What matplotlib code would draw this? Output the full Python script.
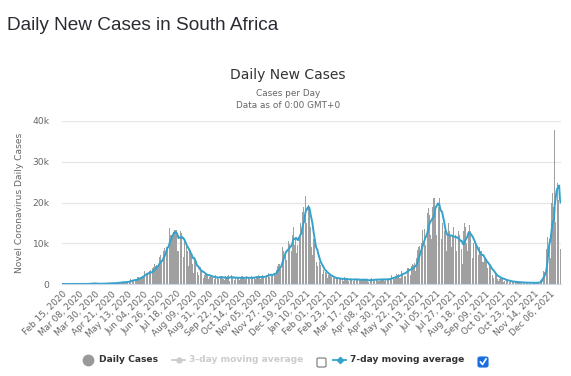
import matplotlib
matplotlib.use("Agg")
import matplotlib.pyplot as plt
from matplotlib.lines import Line2D
from matplotlib.patches import FancyBboxPatch
import numpy as np
import pandas as pd

# daily new cases, South Africa, one row per week (rows start on Saturday)
start_date = "2020-02-15"
cases_2020 = [
    0, 0, 0, 0, 0, 0, 0,                              # Feb 15
    0, 0, 0, 0, 0, 0, 0,                              # Feb 22
    0, 0, 0, 0, 0, 1, 0,                              # Feb 29
    1, 1, 4, 0, 6, 3, 8,                              # Mar 07
    14, 13, 11, 23, 31, 34, 52,                       # Mar 14
    38, 34, 128, 152, 155, 218, 243,                  # Mar 21
    17, 83, 46, 27, 37, 82, 112,                      # Mar 28
    43, 63, 69, 45, 89, 96, 51,                       # Apr 04
    25, 88, 99, 143, 142, 178, 251,                   # Apr 11
    111, 137, 165, 124, 138, 165, 318,                # Apr 18
    267, 174, 178, 215, 354, 297, 377,                # Apr 25
    385, 447, 437, 267, 424, 663, 332,                # May 02
    595, 480, 380, 416, 511, 703, 665,                # May 09
    804, 1160, 767, 803, 784, 958, 1134,              # May 16
    1218, 963, 1240, 661, 1673, 1837, 1288,           # May 23
    1727, 1716, 1455, 1674, 2700, 1713, 3267,         # May 30
    2312, 2657, 2594, 2430, 2590, 3147, 3155,         # Jun 06
    3359, 2642, 2430, 3809, 4078, 3388, 4966,         # Jun 13
    4302, 4621, 4288, 4518, 4966, 6579, 6215,         # Jun 20
    7210, 5341, 4600, 6945, 8124, 8728, 9063,         # Jun 27
    10853, 8971, 8773, 8810, 10134, 13674, 12058,     # Jul 04
    13497, 12058, 11554, 12757, 12757, 13172, 13285,  # Jul 11
    13285, 10107, 8170, 8170, 13150, 13944, 13104,    # Jul 18
    12444, 11525, 7232, 6513, 11362, 11046, 10107,    # Jul 25
    10107, 8195, 5377, 4456, 8307, 8307, 7712,        # Aug 01
    7712, 4804, 2810, 5385, 6275, 5389, 3916,         # Aug 08
    4000, 3000, 2300, 2800, 3900, 4100, 3500,         # Aug 15
    2313, 2505, 1567, 2088, 2585, 2646, 2370,         # Aug 22
    2420, 1895, 1216, 1677, 2230, 2500, 1663,         # Aug 29
    1929, 1524, 853, 1218, 2143, 1923, 2046,          # Sep 05
    1527, 1277, 772, 1923, 1989, 2055, 1987,          # Sep 12
    1587, 1119, 906, 1004, 1907, 1692, 1976,          # Sep 19
    1325, 2174, 737, 1767, 1705, 2134, 1725,          # Sep 26
    1436, 1207, 1012, 1495, 2148, 1708, 1767,         # Oct 03
    1541, 1210, 901, 1116, 1980, 1801, 2036,          # Oct 10
    1474, 1203, 1094, 1146, 2016, 1933, 1801,         # Oct 17
    1520, 1129, 1052, 1225, 1994, 1824, 2004,         # Oct 24
    1673, 1372, 1191, 1376, 1887, 2078, 2220,         # Oct 31
    1812, 1361, 1134, 1614, 2082, 2233, 1854,         # Nov 07
    1955, 1348, 1374, 2272, 2578, 2664, 2642,         # Nov 14
    1824, 2270, 1723, 1870, 2270, 3215, 3300,         # Nov 21
    2813, 2296, 2003, 3500, 4400, 4800, 5200,         # Nov 28
    4900, 3800, 3500, 7500, 9000, 8000, 9000,         # Dec 05
    8500, 7900, 6000, 9000, 9500, 10500, 9800,        # Dec 12
    10900, 8500, 8000, 12000, 14500, 14000, 9500,     # Dec 19
    11500, 9500, 7500, 9500, 14000, 17710,            # Dec 26
]
cases_2021 = [
    11500,                                            # Jan 01
    15002, 10939, 12601, 17710, 19000, 20000, 21980,  # Jan 02
    21606, 15002, 12601, 21832, 19500, 18500, 16500,  # Jan 09
    14000, 9000, 7000, 12000, 11000, 10000, 8500,     # Jan 16
    7000, 5500, 4500, 6000, 6500, 5500, 4600,         # Jan 23
    4000, 3300, 2500, 3400, 3900, 3500, 3000,         # Jan 30
    2600, 2000, 1500, 2200, 2700, 2300, 2000,         # Feb 06
    1800, 1400, 1000, 1400, 1900, 1750, 1550,         # Feb 13
    1434, 1192, 942, 1126, 1563, 1554, 1361,          # Feb 20
    1190, 1165, 843, 1087, 1596, 1335, 1428,          # Feb 27
    1165, 921, 618, 1007, 1288, 1445, 1308,           # Mar 06
    1260, 827, 656, 1077, 1486, 1318, 1234,           # Mar 13
    1187, 802, 561, 910, 1343, 1346, 1209,            # Mar 20
    1080, 946, 621, 1114, 1344, 1151, 1009,           # Mar 27
    863, 502, 488, 1031, 1232, 1353, 1111,            # Apr 03
    1182, 718, 639, 1188, 1311, 1340, 1106,           # Apr 10
    1259, 786, 776, 1075, 1470, 1347, 1236,           # Apr 17
    1216, 754, 664, 1173, 1536, 1384, 1217,           # Apr 24
    1330, 879, 849, 1577, 2099, 1802, 1607,           # May 01
    1755, 1165, 968, 1975, 2557, 2231, 2151,          # May 08
    2376, 1576, 1437, 2683, 3173, 2761, 3086,         # May 15
    3018, 1990, 1853, 3626, 4220, 3950, 3941,         # May 22
    3881, 2541, 2221, 4515, 5090, 4932, 4697,         # May 29
    5248, 3230, 3147, 6412, 8436, 8881, 9149,         # Jun 05
    9286, 6130, 7244, 10065, 13155, 13246, 12802,     # Jun 12
    13398, 9483, 9718, 13246, 17493, 18762, 19164,    # Jun 19
    17000, 12000, 11000, 16000, 19000, 21000, 21000,  # Jun 26
    26485, 18000, 12000, 18000, 22000, 19000, 21000,  # Jul 03
    20000, 14000, 11000, 15000, 15000, 14000, 13000,  # Jul 10
    13000, 9000, 8000, 12000, 15000, 14000, 13000,    # Jul 17
    12000, 9000, 8000, 12000, 14000, 13000, 13000,    # Jul 24
    12000, 8000, 8000, 11000, 13000, 12000, 11000,    # Jul 31
    11000, 8500, 5000, 8000, 13000, 15000, 14000,     # Aug 07
    14000, 10000, 8000, 13000, 14000, 14500, 13000,   # Aug 14
    12500, 8000, 6500, 10000, 11500, 11000, 10000,    # Aug 21
    9000, 6000, 4000, 7000, 9000, 8500, 8000,         # Aug 28
    8000, 5500, 4000, 5500, 6500, 6000, 6500,         # Sep 04
    5500, 4000, 2500, 3700, 4600, 4500, 4000,         # Sep 11
    3500, 2200, 1500, 2000, 2800, 2600, 2400,         # Sep 18
    1800, 1200, 800, 1300, 2000, 1800, 1300,          # Sep 25
    1400, 900, 600, 800, 1300, 1100, 1000,            # Oct 02
    900, 600, 400, 500, 900, 700, 600,                # Oct 09
    650, 450, 300, 400, 700, 500, 450,                # Oct 16
    500, 350, 250, 350, 550, 450, 400,                # Oct 23
    400, 250, 150, 300, 500, 400, 350,                # Oct 30
    350, 200, 150, 250, 400, 350, 300,                # Nov 06
    350, 250, 150, 300, 450, 400, 350,                # Nov 13
    400, 300, 350, 870, 1275, 2465, 2828,             # Nov 20
    3220, 2858, 2273, 4373, 8561, 11535, 16055,       # Nov 27
    16366, 11125, 6381, 13147, 19842, 22391, 19018,   # Dec 04
    17154, 37875, 15154, 23884, 26976, 24785, 20713,  # Dec 11
    19784, 15424, 8515,                               # Dec 18
]
y_ticks = [0, 10000, 20000, 30000, 40000]
y_tick_labels = ["0", "10k", "20k", "30k", "40k"]
tick_every = 22

daily = cases_2020 + cases_2021
dates = pd.date_range(start_date, periods=len(daily), freq="D")
cases = pd.Series(daily, index=dates)
avg7 = cases.rolling(7, min_periods=1).mean()

W, H = 571, 376
fig = plt.figure(figsize=(W / 100, H / 100), dpi=100)

def fx(px):
    return px / W

def fy(py):
    return 1 - py / H

ax = fig.add_axes([fx(62), fy(284), fx(561) - fx(62), fy(121) - fy(284)])
x = np.arange(len(cases))
ax.bar(x, cases.values, width=0.8, color="#a0a0a0", linewidth=0, zorder=2)
ax.plot(x, avg7.values, color="#35a2cc", lw=1.4, zorder=3)

ax.set_xlim(-0.5, len(cases) - 0.5)
ax.set_ylim(0, 40000)
ax.set_yticks(y_ticks)
ax.set_yticklabels(y_tick_labels)
ticks = x[::tick_every]
ax.set_xticks(ticks)
ax.set_xticklabels([dates[i].strftime("%b %d, %Y") for i in ticks],
                   rotation=45, ha="right", rotation_mode="anchor")
ax.tick_params(axis="x", length=0, pad=4, labelsize=6.4, labelcolor="#666666")
ax.tick_params(axis="y", length=0, pad=9, labelsize=6.6, labelcolor="#666666")
ax.grid(axis="y", color="#e6e6e6", lw=0.9, zorder=0)
for side in ["top", "right", "left"]:
    ax.spines[side].set_visible(False)
ax.spines["bottom"].set_color("#ccd6eb")
ax.spines["bottom"].set_zorder(4)
ax.set_ylabel("Novel Coronavirus Daily Cases", fontsize=6.6, color="#666666", labelpad=6)

# titles
fig.text(fx(7), fy(26), "Daily New Cases in South Africa", fontsize=13.7,
         family="Liberation Sans", color="#2b2b33", va="center", ha="left")
fig.text(fx(288), fy(74.5), "Daily New Cases", fontsize=10, color="#333333",
         ha="center", va="center")
fig.text(fx(288), fy(93.5), "Cases per Day", fontsize=6.4, color="#666666",
         ha="center", va="center")
fig.text(fx(288), fy(106), "Data as of 0:00 GMT+0", fontsize=6.4, color="#666666",
         ha="center", va="center")

# legend
ly = 360
fig.add_artist(Line2D([fx(88)], [fy(ly)], marker="o", ms=7.5, color="#999999",
                      transform=fig.transFigure))
fig.text(fx(99), fy(ly), "Daily Cases", fontsize=6.6, weight="bold",
         color="#333333", va="center")
fig.add_artist(Line2D([fx(172), fx(185)], [fy(ly), fy(ly)], color="#cccccc", lw=1.3,
                      transform=fig.transFigure))
fig.add_artist(Line2D([fx(178.5)], [fy(ly)], marker="o", ms=3.5, color="#cccccc",
                      transform=fig.transFigure))
fig.text(fx(189), fy(ly), "3-day moving average", fontsize=6.6, weight="bold",
         color="#cccccc", va="center")
fig.add_artist(FancyBboxPatch((fx(317), fy(367)), fx(9), 9 / H,
                              boxstyle="round,pad=0,rounding_size=0.003",
                              facecolor="white", edgecolor="#767676", lw=0.8,
                              transform=fig.transFigure))
fig.add_artist(Line2D([fx(333), fx(346)], [fy(ly), fy(ly)], color="#35a2cc", lw=1.3,
                      transform=fig.transFigure))
fig.add_artist(Line2D([fx(339.5)], [fy(ly)], marker="D", ms=3.2, color="#35a2cc",
                      transform=fig.transFigure))
fig.text(fx(350), fy(ly), "7-day moving average", fontsize=6.6, weight="bold",
         color="#333333", va="center")
fig.add_artist(FancyBboxPatch((fx(478), fy(367)), fx(10), 10 / H,
                              boxstyle="round,pad=0,rounding_size=0.004",
                              facecolor="#1a6fe0", edgecolor="#1a6fe0", lw=0.8,
                              transform=fig.transFigure))
fig.add_artist(Line2D([fx(480.5), fx(482.5), fx(486)], [fy(362), fy(364.5), fy(359)],
                      color="white", lw=1.2, transform=fig.transFigure))

fig.savefig("out.png", dpi=100)
